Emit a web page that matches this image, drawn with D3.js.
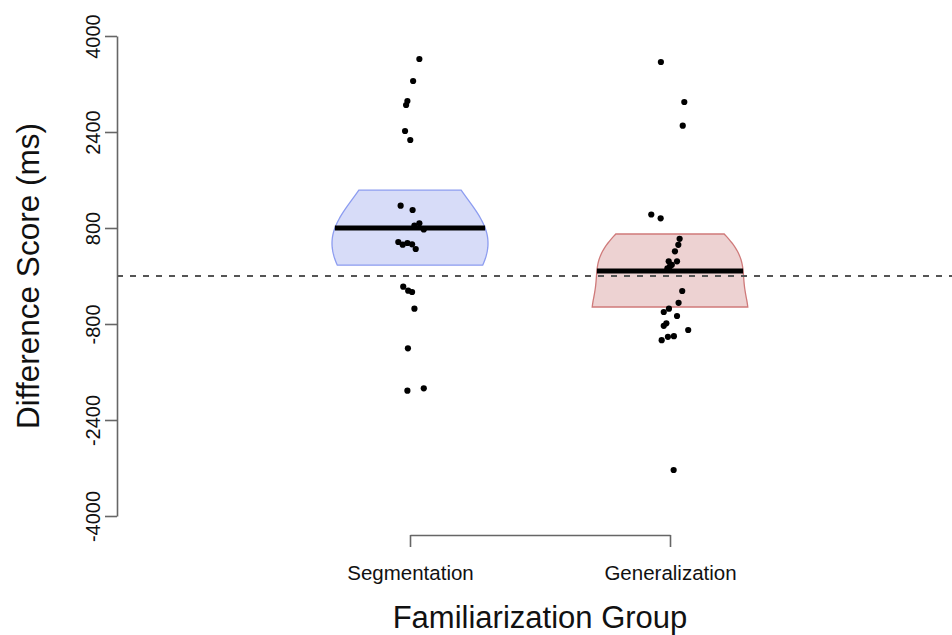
<!DOCTYPE html>
<html>
<head>
<meta charset="utf-8">
<script src="https://cdn.jsdelivr.net/npm/d3@7"></script>
<style>
  body { margin: 0; background: #fff; }
  text { font-family: "Liberation Sans", Arial, Helvetica, sans-serif; }
</style>
</head>
<body>
<svg id="chart"></svg>
<script>
// categories
const groups = ["Segmentation", "Generalization"];

// difference scores (ms)
const segValues = [3617, 3250, 2917, 2850, 2417, 2267, 1172, 1100, 878, 842, 775,
	567, 522, 550, 528, 450, -178, -245, -267, -545, -1205, -1912, -1872];
// horizontal jitter of each point (group position 1)
const segJitter = [1.036, 1.012, 0.990, 0.985, 0.981, 1.001, 0.964, 1.010, 1.036, 1.017, 1.053,
	0.955, 0.972, 0.990, 1.008, 1.022, 0.974, 0.993, 1.008, 1.017, 0.992, 0.990, 1.053];

const genValues = [3567, 2900, 2505, 1025, 962, 620, 520, 412, 245, 245, 187, 162, 128,
	-250, -447, -545, -600, -667, -788, -830, -900, -1003, -1013, -1070, -3233];
// horizontal jitter of each point (group position 2)
const genJitter = [1.965, 2.055, 2.049, 1.928, 1.964, 2.037, 2.032, 2.019, 1.995, 2.027, 2.007, 2.000, 1.990,
	2.047, 2.033, 1.996, 1.976, 2.027, 1.986, 1.976, 2.070, 2.015, 1.992, 1.968, 2.014];

// group means and inference band limits
const groupMeans = [800, 83];
const bandLow = [180, -517];
const bandHigh = [1430, 700];

// axis ticks
const yTicks = [-4000, -2400, -800, 800, 2400, 4000];

const width = 952;
const height = 635;

const fills = ["#d7dcf8", "#edd2d2"];
const strokes = ["#8c9cf0", "#cf7a7a"];

const svg = d3.select("#chart").attr("width", width).attr("height", height);

const x = d3.scaleLinear().domain([1, 2]).range([410, 670]);
const y = d3.scaleLinear().domain([-4000, 4000]).range([516, 36]);

// R style bw.nrd0 bandwidth
function bwNrd0(v) {
	const s = d3.deviation(v);
	const sorted = v.slice().sort(d3.ascending);
	const iqr = d3.quantileSorted(sorted, 0.75) - d3.quantileSorted(sorted, 0.25);
	return 0.9 * Math.min(s, iqr / 1.34) * Math.pow(v.length, -0.2);
}

function density(v) {
	const bw = bwNrd0(v);
	return function (t) {
		return d3.mean(v, function (d) {
			const z = (t - d) / bw;
			return Math.exp(-0.5 * z * z);
		});
	};
}

const allValues = [segValues, genValues];
const allJitter = [segJitter, genJitter];
const beanWidth = 0.3;

// beans clipped to the inference band
allValues.forEach(function (v, i) {
	const f = density(v);
	const bw = bwNrd0(v);
	const grid = d3.range(d3.min(v) - 3 * bw, d3.max(v) + 3 * bw, 5);
	const maxD = d3.max(grid, f);
	const half = function (t) { return f(t) / maxD * beanWidth; };

	const steps = d3.range(0, 61).map(function (k) {
		return bandLow[i] + (bandHigh[i] - bandLow[i]) * k / 60;
	});
	const pts = steps.map(function (t) { return [x(i + 1 + half(t)), y(t)]; })
		.concat(steps.slice().reverse().map(function (t) { return [x(i + 1 - half(t)), y(t)]; }));

	svg.append("path")
		.attr("d", d3.line()(pts) + "Z")
		.attr("fill", fills[i])
		.attr("stroke", strokes[i])
		.attr("stroke-width", 1.3);

	const hm = half(groupMeans[i]);
	svg.append("line")
		.attr("x1", x(i + 1 - hm))
		.attr("x2", x(i + 1 + hm))
		.attr("y1", y(groupMeans[i]))
		.attr("y2", y(groupMeans[i]))
		.attr("stroke", "black")
		.attr("stroke-width", 5);
});

// reference line at zero
svg.append("line")
	.attr("x1", 117)
	.attr("x2", width)
	.attr("y1", y(0))
	.attr("y2", y(0))
	.attr("stroke", "#555")
	.attr("stroke-width", 1.8)
	.attr("stroke-dasharray", "6,7");

// raw points
allValues.forEach(function (v, i) {
	svg.append("g")
		.selectAll("circle")
		.data(v)
		.enter()
		.append("circle")
		.attr("cx", function (d, j) { return x(allJitter[i][j]); })
		.attr("cy", function (d) { return y(d); })
		.attr("r", 3.1)
		.attr("fill", "black");
});

// y axis
const yAxis = svg.append("g")
	.attr("transform", "translate(117,0)")
	.call(d3.axisLeft(y).tickValues(yTicks).tickSize(12).tickSizeOuter(0)
		.tickFormat(function (d) { return String(d); }));
yAxis.select(".domain").attr("stroke", "#666").attr("stroke-width", 1.6);
yAxis.selectAll(".tick line").attr("stroke", "#666").attr("stroke-width", 1.6);
yAxis.selectAll(".tick text")
	.attr("transform", "rotate(-90)")
	.attr("x", 0)
	.attr("y", -17)
	.attr("dy", 0)
	.attr("text-anchor", "middle")
	.attr("fill", "#111")
	.style("font-size", "20px");

// x axis
const xAxis = svg.append("g")
	.attr("transform", "translate(0,535)")
	.call(d3.axisBottom(x).tickValues([1, 2]).tickSize(12).tickSizeOuter(0)
		.tickFormat(function (d) { return groups[d - 1]; }));
xAxis.select(".domain").attr("stroke", "#666").attr("stroke-width", 1.6);
xAxis.selectAll(".tick line").attr("stroke", "#666").attr("stroke-width", 1.6);
xAxis.selectAll(".tick text")
	.attr("y", 45)
	.attr("dy", 0)
	.attr("fill", "#111")
	.style("font-size", "20.5px");

// axis titles
svg.append("text")
	.attr("transform", "translate(39,276) rotate(-90)")
	.attr("text-anchor", "middle")
	.attr("fill", "#111")
	.style("font-size", "31.5px")
	.text("Difference Score (ms)");

svg.append("text")
	.attr("x", 540)
	.attr("y", 628)
	.attr("text-anchor", "middle")
	.attr("fill", "#111")
	.style("font-size", "31px")
	.text("Familiarization Group");
</script>
</body>
</html>
